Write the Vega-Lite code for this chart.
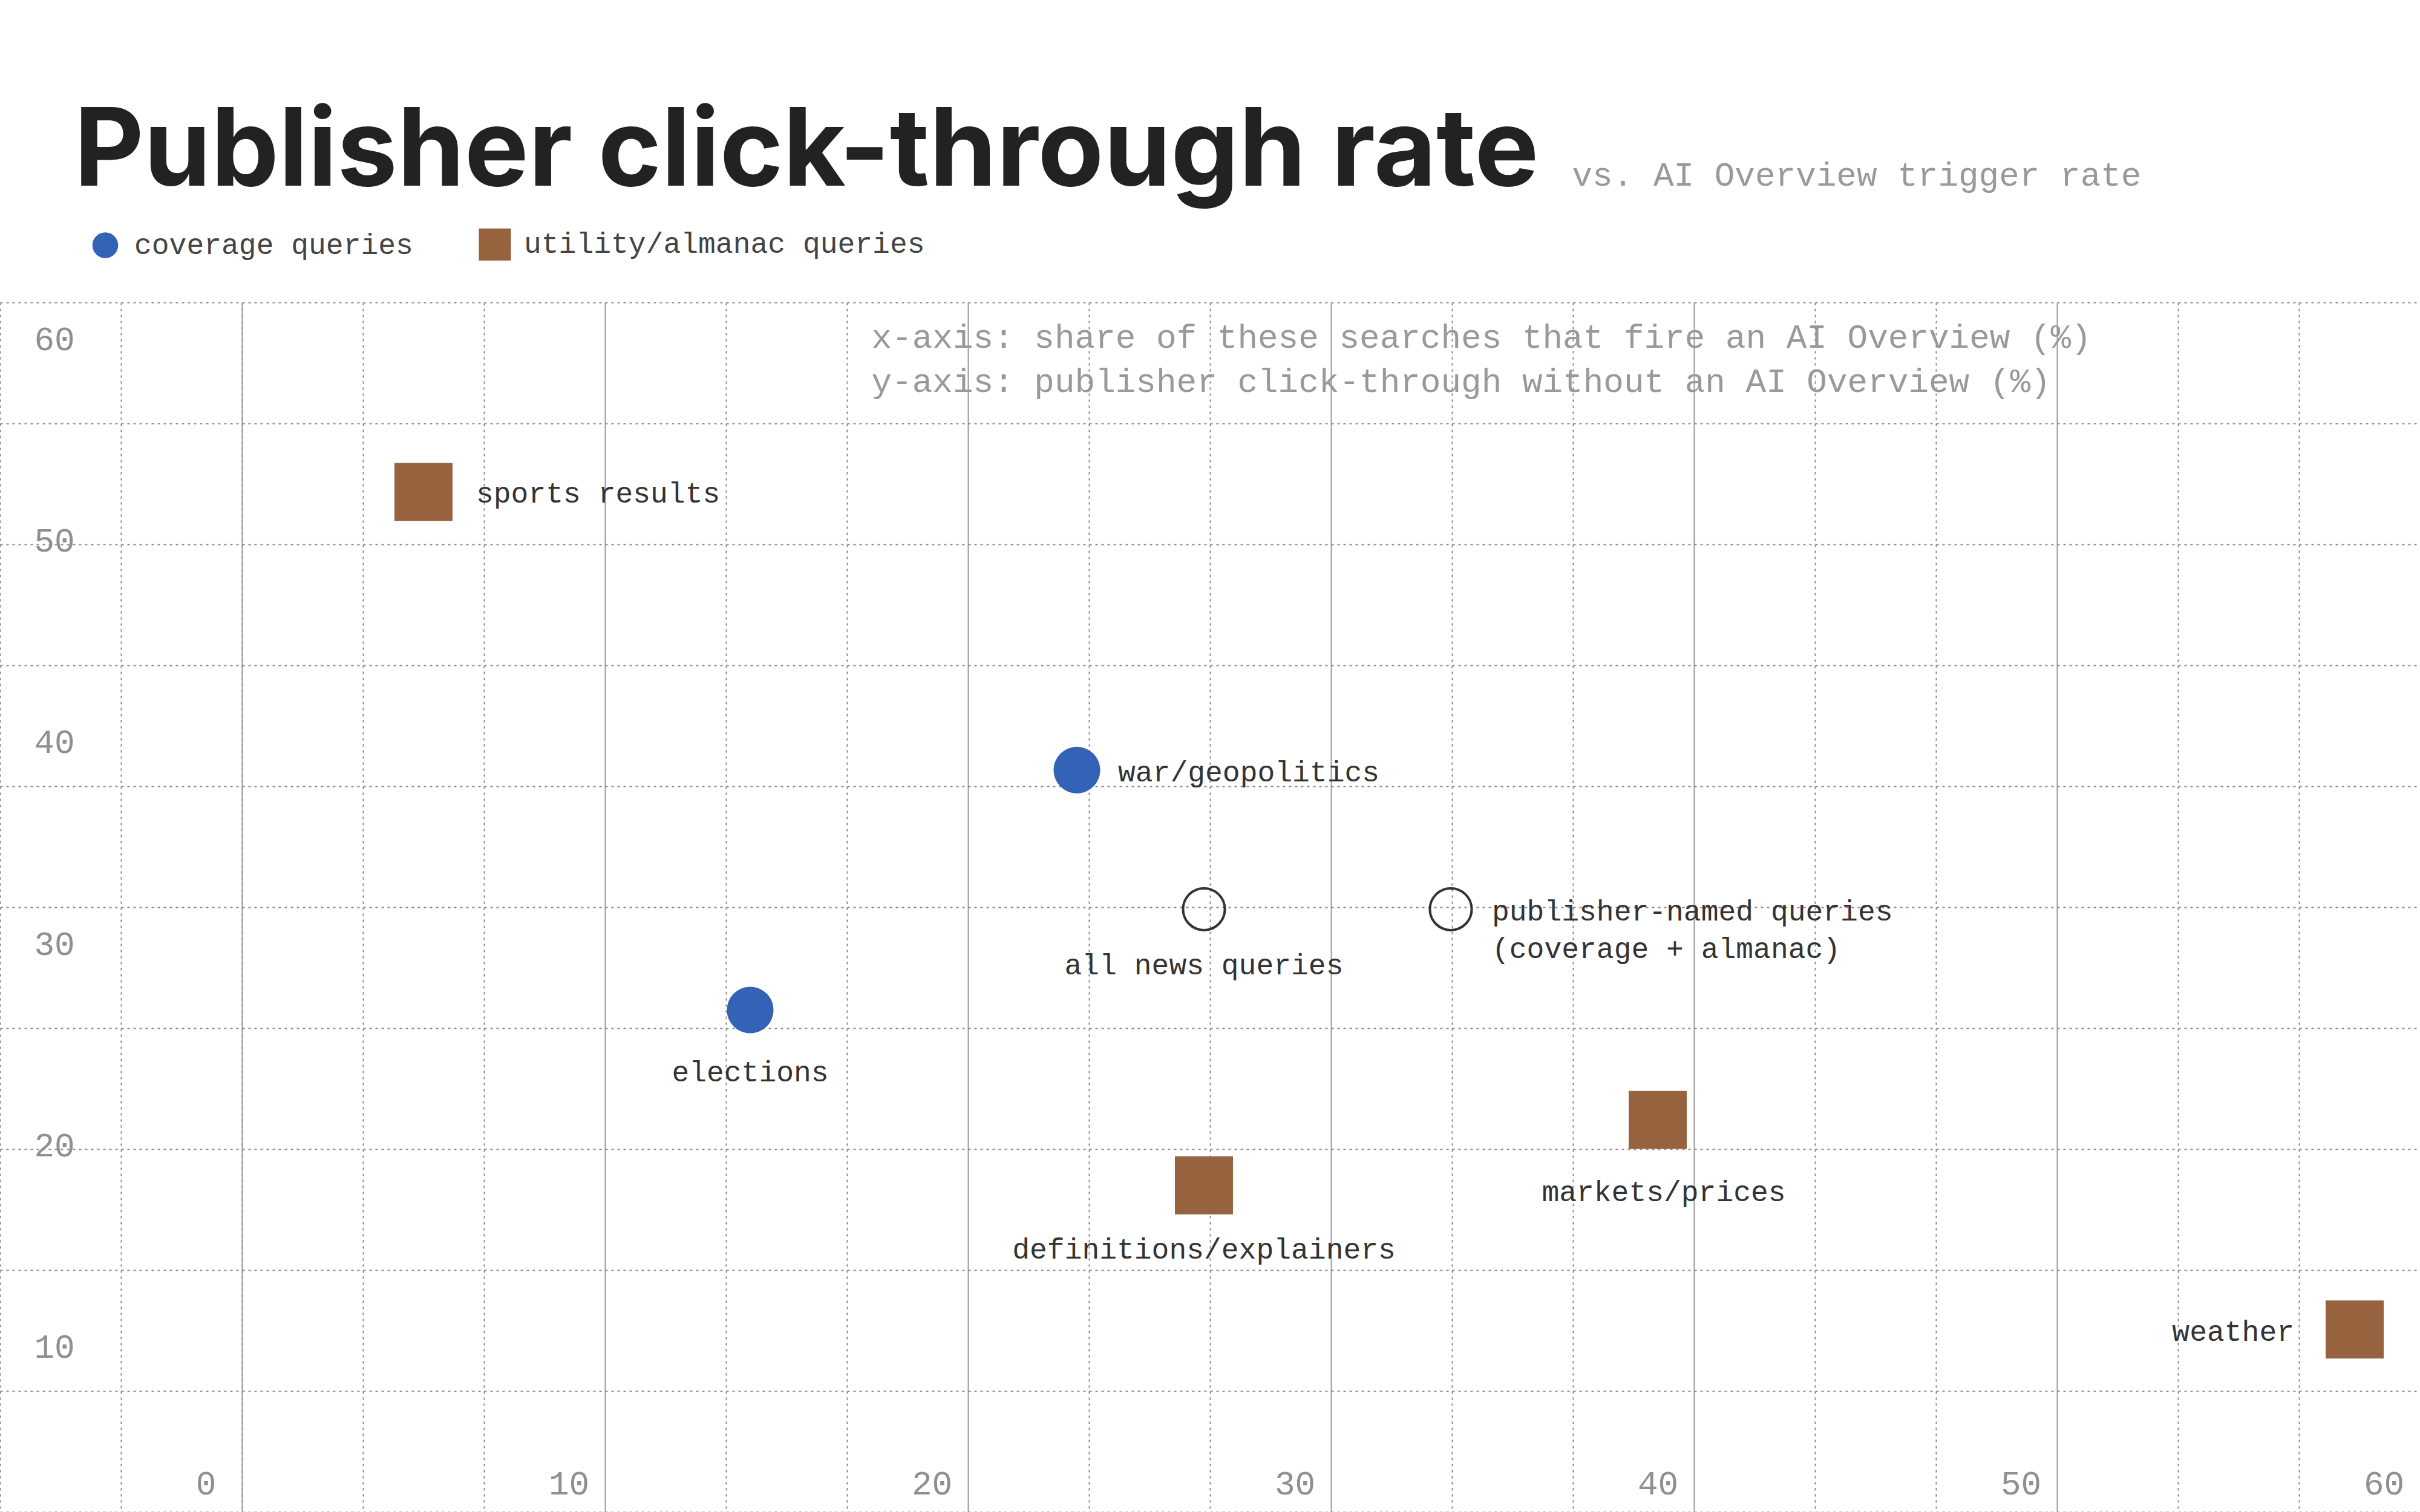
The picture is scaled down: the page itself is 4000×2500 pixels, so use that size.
{
  "$schema": "https://vega.github.io/schema/vega-lite/v6.json",
  "width": 4000,
  "height": 2000,
  "autosize": "none",
  "padding": {"top": 500, "left": 0, "right": 0, "bottom": 0},
  "background": "white",
  "config": {
    "view": {"stroke": null},
    "font": "Liberation Mono"
  },
  "data": {
    "values": [
      {"query": "sports results", "group": "utility/almanac queries", "aio_share": 5.0, "ctr": 50.6},
      {"query": "war/geopolitics", "group": "coverage queries", "aio_share": 23.0, "ctr": 36.8},
      {"query": "all news queries", "group": "aggregate", "aio_share": 26.5, "ctr": 29.9},
      {"query": "publisher-named queries\n(coverage + almanac)", "group": "aggregate", "aio_share": 33.3, "ctr": 29.9},
      {"query": "elections", "group": "coverage queries", "aio_share": 14.0, "ctr": 24.9},
      {"query": "definitions/explainers", "group": "utility/almanac queries", "aio_share": 26.5, "ctr": 16.2},
      {"query": "markets/prices", "group": "utility/almanac queries", "aio_share": 39.0, "ctr": 19.45},
      {"query": "weather", "group": "utility/almanac queries", "aio_share": 58.2, "ctr": 9.05}
    ]
  },
  "layer": [
    {
      "transform": [{"filter": "datum.group != 'aggregate'"}],
      "mark": {"type": "point", "filled": true, "opacity": 1, "size": 5945, "strokeWidth": 0},
      "encoding": {
        "x": {
          "field": "aio_share", "type": "quantitative",
          "scale": {"domain": [-6.66667, 60], "nice": false, "zero": false},
          "axis": {
            "orient": "bottom",
            "values": [-6.66667, -3.33333, 0, 3.33333, 6.66667, 13.33333, 16.66667, 23.33333, 26.66667, 33.33333, 36.66667, 43.33333, 46.66667, 53.33333, 56.66667],
            "grid": true, "gridColor": "#888888", "gridDash": [4, 6], "gridWidth": 2,
            "labels": false, "ticks": false, "domain": false,
            "title": "vs. AI Overview trigger rate",
            "titleX": 2598, "titleY": -2194, "titleAngle": 0,
            "titleAlign": "left", "titleBaseline": "alphabetic",
            "titleFont": "Liberation Mono", "titleFontSize": 56, "titleFontWeight": 400, "titleColor": "#999999"
          }
        },
        "y": {
          "field": "ctr", "type": "quantitative",
          "scale": {"domain": [0, 60], "nice": false, "zero": false},
          "axis": {
            "orient": "left",
            "values": [0, 6, 12, 18, 24, 30, 36, 42, 48, 54, 60],
            "grid": true, "gridColor": "#888888", "gridDash": [4, 6], "gridWidth": 2,
            "labels": false, "ticks": false, "domain": false,
            "title": "Publisher click-through rate",
            "titleX": 122, "titleY": -194, "titleAngle": 0,
            "titleAlign": "left", "titleBaseline": "alphabetic",
            "titleFont": "Inter", "titleFontSize": 178, "titleFontWeight": 700, "titleColor": "#222222"
          }
        },
        "color": {
          "field": "group", "type": "nominal",
          "scale": {"domain": ["coverage queries", "utility/almanac queries"], "range": ["#3462b7", "#97633f"]},
          "legend": {
            "orient": "none", "legendX": 150, "legendY": -120, "direction": "horizontal",
            "title": null, "symbolSize": 1810, "symbolStrokeWidth": 0, "symbolOpacity": 1,
            "labelFont": "Liberation Mono", "labelFontSize": 48, "labelColor": "#444444",
            "labelOffset": 24, "columnPadding": 108, "labelLimit": 1000
          }
        },
        "shape": {
          "field": "group", "type": "nominal",
          "scale": {"domain": ["coverage queries", "utility/almanac queries"], "range": ["circle", "M-1.245,-1.245H1.245V1.245H-1.245Z"]},
          "legend": {
            "orient": "none", "legendX": 150, "legendY": -120, "direction": "horizontal",
            "title": null, "symbolSize": 1810, "symbolStrokeWidth": 0, "symbolOpacity": 1,
            "labelFont": "Liberation Mono", "labelFontSize": 48, "labelColor": "#444444",
            "labelOffset": 24, "columnPadding": 108, "labelLimit": 1000
          }
        }
      }
    },
    {
      "transform": [{"filter": "datum.group == 'aggregate'"}],
      "mark": {"type": "point", "shape": "circle", "filled": false, "opacity": 1, "size": 4778, "stroke": "#333333", "strokeWidth": 4},
      "encoding": {
        "x": {
          "field": "aio_share", "type": "quantitative",
          "scale": {"domain": [-6.66667, 60], "nice": false, "zero": false},
          "axis": {
            "orient": "bottom",
            "values": [0, 10, 20, 30, 40, 50, 60],
            "grid": true, "gridColor": "#9a9a9a", "gridWidth": 2,
            "gridOpacity": {"condition": {"test": "datum.value >= 60", "value": 0}, "value": 1},
            "ticks": false, "tickSize": 0, "domain": false,
            "labelFont": "Liberation Mono", "labelFontSize": 56, "labelColor": "#909090",
            "labelAlign": "center", "labelBaseline": "alphabetic",
            "labelPadding": -30, "labelOffset": -60, "labelFlush": false, "labelOverlap": false,
            "title": "x-axis: share of these searches that fire an AI Overview (%)",
            "titleX": 1440, "titleY": -1926, "titleAngle": 0,
            "titleAlign": "left", "titleBaseline": "alphabetic",
            "titleFont": "Liberation Mono", "titleFontSize": 56, "titleFontWeight": 400, "titleColor": "#999999"
          }
        },
        "y": {
          "field": "ctr", "type": "quantitative",
          "scale": {"domain": [0, 60], "nice": false, "zero": false},
          "axis": {
            "orient": "left",
            "values": [10, 20, 30, 40, 50, 60],
            "grid": false, "ticks": false, "tickSize": 0, "domain": false,
            "labelFont": "Liberation Mono", "labelFontSize": 56, "labelColor": "#909090",
            "labelAlign": "left", "labelBaseline": "middle",
            "labelPadding": -56, "labelOffset": 61, "labelFlush": false, "labelOverlap": false,
            "title": "y-axis: publisher click-through without an AI Overview (%)",
            "titleX": 1440, "titleY": 147, "titleAngle": 0,
            "titleAlign": "left", "titleBaseline": "alphabetic",
            "titleFont": "Liberation Mono", "titleFontSize": 56, "titleFontWeight": 400, "titleColor": "#999999"
          }
        }
      }
    },
    {
      "transform": [{"filter": "datum.query == 'sports results'"}],
      "mark": {"type": "text", "font": "Liberation Mono", "fontSize": 48, "color": "#333333", "align": "left", "baseline": "alphabetic", "dx": 87, "dy": 18},
      "encoding": {
        "x": {"field": "aio_share", "type": "quantitative", "axis": null},
        "y": {"field": "ctr", "type": "quantitative", "axis": null},
        "text": {"field": "query"}
      }
    },
    {
      "transform": [{"filter": "datum.query == 'war/geopolitics' || indexof(datum.query, 'publisher-named') == 0"}],
      "mark": {"type": "text", "font": "Liberation Mono", "fontSize": 48, "color": "#333333", "align": "left", "baseline": "alphabetic", "dx": 68, "dy": 19, "lineBreak": "\n", "lineHeight": 62},
      "encoding": {
        "x": {"field": "aio_share", "type": "quantitative", "axis": null},
        "y": {"field": "ctr", "type": "quantitative", "axis": null},
        "text": {"field": "query"}
      }
    },
    {
      "transform": [{"filter": "datum.query == 'elections'"}],
      "mark": {"type": "text", "font": "Liberation Mono", "fontSize": 48, "color": "#333333", "align": "center", "baseline": "alphabetic", "dy": 118},
      "encoding": {
        "x": {"field": "aio_share", "type": "quantitative", "axis": null},
        "y": {"field": "ctr", "type": "quantitative", "axis": null},
        "text": {"field": "query"}
      }
    },
    {
      "transform": [{"filter": "datum.query == 'all news queries'"}],
      "mark": {"type": "text", "font": "Liberation Mono", "fontSize": 48, "color": "#333333", "align": "center", "baseline": "alphabetic", "dy": 108},
      "encoding": {
        "x": {"field": "aio_share", "type": "quantitative", "axis": null},
        "y": {"field": "ctr", "type": "quantitative", "axis": null},
        "text": {"field": "query"}
      }
    },
    {
      "transform": [{"filter": "datum.query == 'definitions/explainers'"}],
      "mark": {"type": "text", "font": "Liberation Mono", "fontSize": 48, "color": "#333333", "align": "center", "baseline": "alphabetic", "dy": 121},
      "encoding": {
        "x": {"field": "aio_share", "type": "quantitative", "axis": null},
        "y": {"field": "ctr", "type": "quantitative", "axis": null},
        "text": {"field": "query"}
      }
    },
    {
      "transform": [{"filter": "datum.query == 'markets/prices'"}],
      "mark": {"type": "text", "font": "Liberation Mono", "fontSize": 48, "color": "#333333", "align": "center", "baseline": "alphabetic", "dx": 10, "dy": 134},
      "encoding": {
        "x": {"field": "aio_share", "type": "quantitative", "axis": null},
        "y": {"field": "ctr", "type": "quantitative", "axis": null},
        "text": {"field": "query"}
      }
    },
    {
      "transform": [{"filter": "datum.query == 'weather'"}],
      "mark": {"type": "text", "font": "Liberation Mono", "fontSize": 48, "color": "#333333", "align": "right", "baseline": "alphabetic", "dx": -100, "dy": 19},
      "encoding": {
        "x": {"field": "aio_share", "type": "quantitative", "axis": null},
        "y": {"field": "ctr", "type": "quantitative", "axis": null},
        "text": {"field": "query"}
      }
    }
  ],
  "resolve": {"axis": {"x": "independent", "y": "independent"}}
}
